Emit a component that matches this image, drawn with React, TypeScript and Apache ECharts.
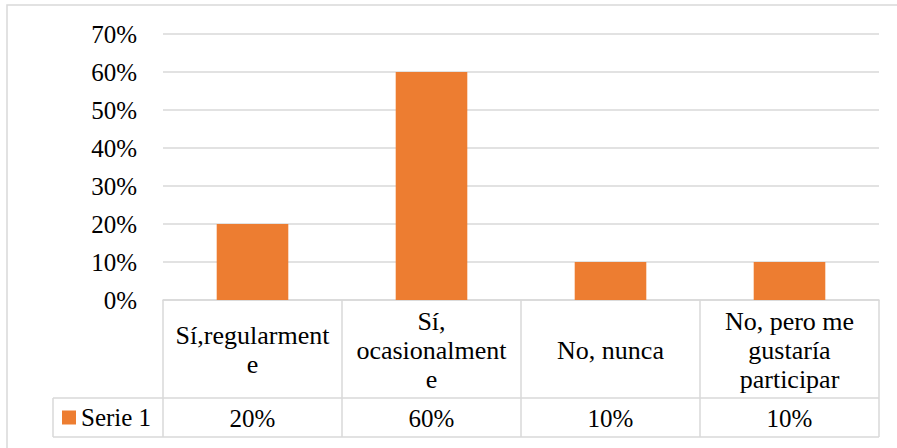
import React, { useEffect, useRef } from "react";
import * as echarts from "echarts";

const categories = [
  "Sí,regularment\ne",
  "Sí,\nocasionalment\ne",
  "No, nunca",
  "No, pero me\ngustaría\nparticipar",
];
const serieName = "Serie 1";
const serie1 = [0.2, 0.6, 0.1, 0.1];
const yMax = 0.7;
const yStep = 0.1;

const pct = (v: number) => `${Math.round(v * 100)}%`;

const FONT = "serif";
const GRAY = "#D9D9D9";
const ORANGE = "#ED7D31";

export default function App() {
  const ref = useRef<HTMLDivElement>(null);
  useEffect(() => {
    if (!ref.current) return;
    const chart = echarts.init(ref.current, null, { renderer: "svg" });
    const gl = 163;
    const gr = 879;
    const gb = 300;
    const row1 = 398;
    const row2 = 437;
    const keyLeft = 53;
    chart.setOption({
      animation: false,
      backgroundColor: "#fff",
      textStyle: { fontFamily: FONT },
      grid: { left: gl, right: 897 - gr, top: 34, bottom: 448 - gb, containLabel: false },
      legend: {
        show: true,
        left: 62,
        top: 405,
        padding: 0,
        itemWidth: 14,
        itemHeight: 14,
        icon: "rect",
        data: [serieName],
        textStyle: { fontFamily: FONT, fontSize: 25, color: "#000" },
      },
      xAxis: [
        {
          type: "category",
          data: categories,
          position: "bottom",
          axisLine: { show: true, lineStyle: { color: GRAY, width: 1.5 } },
          axisTick: { show: true, interval: 0, length: row2 - gb, lineStyle: { color: GRAY, width: 1.5 } },
          axisLabel: {
            interval: 0,
            margin: 50,
            verticalAlign: "middle",
            fontFamily: FONT,
            fontSize: 26,
            lineHeight: 29,
            color: "#000",
            align: "center",
          },
        },
        {
          type: "category",
          data: categories,
          position: "bottom",
          axisLine: { show: false },
          axisTick: { show: false },
          axisLabel: {
            interval: 0,
            margin: 118,
            verticalAlign: "middle",
            fontFamily: FONT,
            fontSize: 25,
            color: "#000",
            formatter: (_v: string, i: number) => pct(serie1[i]),
          },
        },
      ],
      yAxis: {
        type: "value",
        min: 0,
        max: yMax,
        interval: yStep,
        axisLine: { show: false },
        axisTick: { show: false },
        splitLine: { show: true, lineStyle: { color: GRAY, width: 1.5 } },
        axisLabel: {
          margin: 26,
          fontFamily: FONT,
          fontSize: 25,
          color: "#000",
          formatter: (v: number) => pct(v),
        },
      },
      series: [
        {
          name: serieName,
          type: "bar",
          xAxisIndex: 0,
          data: serie1,
          barWidth: "40%",
          itemStyle: { color: ORANGE },
        },
      ],
      graphic: [
        {
          type: "rect",
          shape: { x: 7, y: 5, width: 1000, height: 1000 },
          style: { fill: "none", stroke: GRAY, lineWidth: 1.5 },
          silent: true,
        },
        {
          type: "line",
          shape: { x1: keyLeft, y1: row1, x2: gr, y2: row1 },
          style: { stroke: GRAY, lineWidth: 1.5 },
          silent: true,
        },
        {
          type: "line",
          shape: { x1: keyLeft, y1: row2, x2: gr, y2: row2 },
          style: { stroke: GRAY, lineWidth: 1.5 },
          silent: true,
        },
        {
          type: "line",
          shape: { x1: keyLeft, y1: row1, x2: keyLeft, y2: row2 },
          style: { stroke: GRAY, lineWidth: 1.5 },
          silent: true,
        },
      ],
    });
    return () => chart.dispose();
  }, []);
  return (
    <div
      ref={ref}
      style={{ position: "absolute", left: 0, top: 0, width: 897, height: 448 }}
    />
  );
}
